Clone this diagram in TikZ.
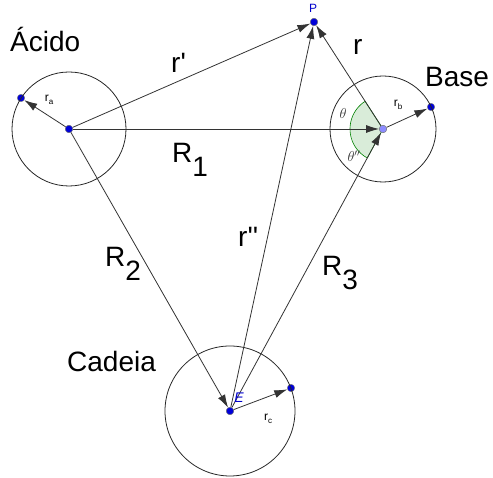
\documentclass[tikz,border=0pt]{standalone}
\usepackage{fontspec}
\setmainfont{Liberation Sans}
\usetikzlibrary{arrows.meta,calc}

\newcommand{\bigtxt}{\fontsize{28}{30}\selectfont}
\newcommand{\smalltxt}{\fontsize{12}{13}\selectfont}
\newcommand{\lowsub}[1]{\raisebox{-14pt}{#1}}

\begin{document}
\begin{tikzpicture}[x=1pt, y=1pt,
    vec/.style={draw=black!80, line width=0.8pt, -{Latex[length=13pt, width=8pt]}},
    ring/.style={draw=black!85, line width=0.8pt},
    dot/.style={circle, fill=blue!85!black, draw=black!50, inner sep=0pt, minimum size=7.5pt},
    word/.style={anchor=base west, inner sep=0pt, font=\bigtxt}]
    \useasboundingbox (0,0) rectangle (493,478);

    % centres and points
    \node [dot] (A) at (69,349) {};
    \node [dot, fill=blue!45] (B) at (383,349) {};
    \node [dot] (E) at (230,67) {};
    \node [dot] (P) at (314,456) {};
    \node [dot] (ra) at (21,380) {};
    \node [dot] (rb) at (431,371) {};
    \node [dot] (rc) at (291,90) {};

    \draw [ring] (A.center) circle [radius=57pt];
    \draw [ring] (B.center) circle [radius=53pt];
    \draw [ring] (E.center) circle [radius=65pt];

    % angle between r and R1, R3
    \filldraw [fill=green!50!black, fill opacity=0.15, draw=green!50!black, line width=0.6pt]
        let \p1=($(P)-(B)$), \p2=($(E)-(B)$),
            \n1={atan2(\y1,\x1)}, \n2={atan2(\y2,\x2)+360} in
        (B.center) -- ++(\n1:33pt) arc [start angle=\n1, end angle=\n2, radius=33pt] -- cycle;

    \begin{scope}[every path/.style={vec}]
        \draw (A) -- (P);
        \draw (A) -- (B);
        \draw (A) -- (E);
        \draw (E) -- (P);
        \draw (E) -- (B);
        \draw (B) -- (P);
        \draw (A) -- (ra);
        \draw (B) -- (rb);
        \draw (E) -- (rc);
    \end{scope}

    \node [dot] at (A) {};
    \node [dot, fill=blue!45] at (B) {};
    \node [dot] at (E) {};
    \node [dot] at (P) {};

    \node [word] (acido) at (10,426) {Ácido};
    \node [word] (base) at (425,391) {Base};
    \node [word] (cadeia) at (67,106) {Cadeia};

    \node [word] (lr1) at (171,405) {r\textquotesingle};
    \node [word] (lr) at (353,423) {r};
    \node [word] (lR1) at (172,315) {R\lowsub{1}};
    \node [word] (lR2) at (105,211) {R\lowsub{2}};
    \node [word] (lr2) at (238,231) {r\textquotesingle\textquotesingle};
    \node [word] (lR3) at (322,202) {R\lowsub{3}};

    \node [font=\smalltxt] (lra) at (49,378) {r\raisebox{-3pt}{\fontsize{8}{8}\selectfont a}};
    \node [font=\smalltxt] (lrb) at (398,373) {r\raisebox{-3pt}{\fontsize{8}{8}\selectfont b}};
    \node [font=\smalltxt] (lrc) at (268,59) {r\raisebox{-3pt}{\fontsize{8}{8}\selectfont c}};

    \node [blue!80!black, font=\smalltxt] (lP) at (313,470) {P};
    \node [blue!80!black, font=\fontsize{14}{14}\selectfont\itshape] (lE) at (239,80) {E};
    \node [black!80, font=\fontsize{14}{14}\selectfont] (lth) at (343,364) {$\theta$};
    \node [black!80, font=\fontsize{14}{14}\selectfont] (lth2) at (354,322) {$\theta''$};
\end{tikzpicture}
\end{document}
